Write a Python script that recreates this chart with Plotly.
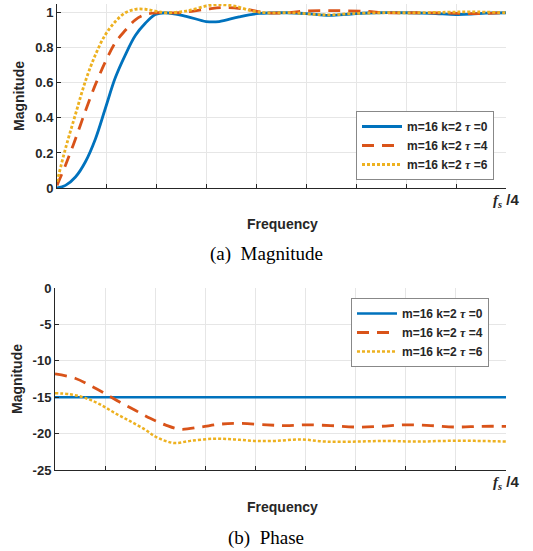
import plotly.graph_objects as go

# ---------- data ----------
freq_minor_step = 1
freq_label_vals = [9]
freq_label_text = ["<b><span style='font-size:15px'><i><span style='font-family:Liberation Serif'>f</span></i>"
                   "<sub><i><span style='font-family:Liberation Serif'>s</span></i></sub> /4</span></b>"]

mag_x_tau0 = [0, 0.17, 0.37, 0.57, 0.77, 0.97, 1.17, 1.37, 1.57, 1.77, 1.97, 2.17, 2.59, 2.99, 3.25, 3.65, 4.05,
              4.6, 5.0, 5.46, 5.9, 6.4, 7.0, 7.5, 8.0, 8.3, 8.6, 9.0]
mag_y_tau0 = [0, 0.015, 0.063, 0.15, 0.28, 0.455, 0.63, 0.76, 0.87, 0.94, 0.99, 1.0, 0.98, 0.95, 0.95, 0.977, 0.996,
              1.0, 0.995, 0.985, 0.993, 1.0, 1.0, 0.997, 0.99, 0.992, 0.998, 1.0]

mag_x_tau4 = [0, 0.17, 0.37, 0.57, 0.77, 0.97, 1.17, 1.37, 1.57, 1.77, 2.0, 2.45, 2.99, 3.39, 3.79, 4.19,
              4.6, 5.0, 5.6, 6.2, 6.6, 7.2, 7.8, 8.3, 9.0]
mag_y_tau4 = [0.015, 0.13, 0.28, 0.44, 0.59, 0.72, 0.83, 0.9, 0.96, 0.99, 1.0, 1.0, 1.02, 1.03, 1.02, 1.0,
              1.0, 1.01, 1.012, 1.008, 1.0, 1.0, 0.998, 0.995, 1.0]

mag_x_tau6 = [0, 0.17, 0.37, 0.57, 0.77, 0.97, 1.17, 1.37, 1.57, 1.77, 1.97, 2.2, 2.59, 3.12, 3.52, 3.92, 4.19,
              4.7, 5.2, 5.5, 5.9, 6.5, 7.2, 7.8, 8.3, 9.0]
mag_y_tau6 = [0.035, 0.225, 0.42, 0.61, 0.76, 0.875, 0.95, 1.0, 1.02, 1.02, 1.01, 1.0, 1.01, 1.045, 1.04, 1.01, 1.0,
              1.0, 0.99, 0.988, 0.995, 1.0, 1.0, 1.003, 1.005, 1.0]

ph_x_tau0 = [0, 9]
ph_y_tau0 = [-15, -15]

ph_x_tau4 = [0, 0.4, 0.7, 1.0, 1.3, 1.6, 1.9, 2.2, 2.5, 2.9, 3.3, 3.7, 4.23, 4.6, 5.0, 5.5, 6.0, 6.5, 7.0, 7.5, 8.0, 8.5, 9.0]
ph_y_tau4 = [-11.8, -12.4, -13.4, -14.5, -15.7, -16.8, -17.9, -18.8, -19.4, -19.1, -18.7, -18.6, -18.8,
             -18.9, -18.8, -18.9, -19.1, -19.0, -18.8, -18.9, -19.1, -19.0, -19.0]

ph_x_tau6 = [0, 0.3, 0.6, 0.9, 1.2, 1.5, 1.8, 2.0, 2.2, 2.4, 2.7, 3.17, 3.57, 3.97, 4.4, 4.9, 5.4, 6.0, 6.6, 7.2, 7.8, 8.4, 9.0]
ph_y_tau6 = [-14.45, -14.6, -15.1, -16.0, -17.2, -18.3, -19.45, -20.4, -21.0, -21.3, -21.0, -20.7, -20.8, -21.0,
             -21.0, -20.8, -21.1, -21.1, -21.0, -21.1, -21.0, -21.0, -21.1]

TAU = "<i><span style='font-family:Liberation Serif'>τ</span></i>"
legend_names = ["<b>m=16 k=2 " + TAU + " =0</b>", "<b>m=16 k=2 " + TAU + " =4</b>", "<b>m=16 k=2 " + TAU + " =6</b>"]

BLUE = "#0072BD"
ORANGE = "#D95319"
YELLOW = "#EDB120"
FONT = "Liberation Sans, Arial, sans-serif"

fig = go.Figure()

# top: magnitude
fig.add_trace(go.Scatter(x=mag_x_tau0, y=mag_y_tau0, mode="lines", name=legend_names[0],
                         line=dict(color=BLUE, width=2.8, shape="spline"), xaxis="x", yaxis="y", legend="legend"))
fig.add_trace(go.Scatter(x=mag_x_tau4, y=mag_y_tau4, mode="lines", name=legend_names[1],
                         line=dict(color=ORANGE, width=2.8, dash="12px,8px", shape="spline"), xaxis="x", yaxis="y", legend="legend"))
fig.add_trace(go.Scatter(x=mag_x_tau6, y=mag_y_tau6, mode="lines", name=legend_names[2],
                         line=dict(color=YELLOW, width=2.8, dash="3px,2px", shape="spline"), xaxis="x", yaxis="y", legend="legend"))

# bottom: phase
fig.add_trace(go.Scatter(x=ph_x_tau0, y=ph_y_tau0, mode="lines", name=legend_names[0],
                         line=dict(color=BLUE, width=2.6), xaxis="x2", yaxis="y2", legend="legend2"))
fig.add_trace(go.Scatter(x=ph_x_tau4, y=ph_y_tau4, mode="lines", name=legend_names[1],
                         line=dict(color=ORANGE, width=2.8, dash="12px,8px", shape="spline"), xaxis="x2", yaxis="y2", legend="legend2"))
fig.add_trace(go.Scatter(x=ph_x_tau6, y=ph_y_tau6, mode="lines", name=legend_names[2],
                         line=dict(color=YELLOW, width=2.5, dash="3px,2px", shape="spline"), xaxis="x2", yaxis="y2", legend="legend2"))

W, H = 533, 551
def px(v):
    return v / W
def py(v):
    return 1 - v / H

GRID = "#E6E6E6"
axis_common = dict(showline=True, linecolor="#262626", linewidth=1, ticks="inside", ticklen=4,
                   tickcolor="#262626", showgrid=True, gridcolor=GRID, gridwidth=1,
                   zeroline=False, automargin=False,
                   tickfont=dict(family=FONT, size=13, color="#262626"))

xminor = dict(tick0=0, dtick=freq_minor_step, ticks="inside", ticklen=4, tickcolor="#262626",
              showgrid=True, gridcolor=GRID, gridwidth=1)

legend_common = dict(bgcolor="white", bordercolor="#888888", borderwidth=1,
                     font=dict(family=FONT, size=12, color="#262626"),
                     xanchor="right", tracegroupgap=0, itemwidth=40)

fig.update_layout(
    template="none",
    width=W, height=H, margin=dict(l=0, r=0, t=0, b=0, pad=0, autoexpand=False),
    paper_bgcolor="white", plot_bgcolor="white",
    font=dict(family=FONT, color="#262626"),
    xaxis=dict(domain=[px(57), px(506)], range=[0, 9], tickvals=freq_label_vals, ticktext=freq_label_text,
               minor=xminor, anchor="y", **axis_common),
    yaxis=dict(domain=[py(188), py(4)], range=[0, 1.05], tickvals=[0, 0.2, 0.4, 0.6, 0.8, 1],
               ticktext=["<b>0</b>", "<b>0.2</b>", "<b>0.4</b>", "<b>0.6</b>", "<b>0.8</b>", "<b>1</b>"],
               anchor="x", **axis_common),
    xaxis2=dict(domain=[px(55), px(506)], range=[0, 9], tickvals=freq_label_vals, ticktext=freq_label_text,
                minor=xminor, anchor="y2", **axis_common),
    yaxis2=dict(domain=[py(470), py(288)], range=[-25, 0], tickvals=[-25, -20, -15, -10, -5, 0],
                ticktext=["<b>-25</b>", "<b>-20</b>", "<b>-15</b>", "<b>-10</b>", "<b>-5</b>", "<b>0</b>"],
                anchor="x2", **axis_common),
    legend=dict(x=px(494), y=py(111), yanchor="top", **legend_common),
    legend2=dict(x=px(489), y=py(298), yanchor="top", **legend_common),
    showlegend=True,
)

ann_common = dict(xref="paper", yref="paper", xanchor="center", yanchor="middle", showarrow=False)
annotations = [
    dict(text="<b>Frequency</b>", x=px(282), y=py(224),
         font=dict(family=FONT, size=14, color="#262626"), **ann_common),
    dict(text="<b>Frequency</b>", x=px(282), y=py(507),
         font=dict(family=FONT, size=14, color="#262626"), **ann_common),
    dict(text="<b>Magnitude</b>", x=px(19), y=py(96), textangle=-90,
         font=dict(family=FONT, size=14, color="#262626"), **ann_common),
    dict(text="<b>Magnitude</b>", x=px(17), y=py(379), textangle=-90,
         font=dict(family=FONT, size=14, color="#262626"), **ann_common),
    dict(text="(a)  Magnitude", x=px(266), y=py(254),
         font=dict(family="Liberation Serif, Times New Roman, serif", size=19, color="black"), **ann_common),
    dict(text="(b)  Phase", x=px(266), y=py(538),
         font=dict(family="Liberation Serif, Times New Roman, serif", size=19, color="black"), **ann_common),
]
fig.update_layout(annotations=annotations)

fig.write_html("out.html")
